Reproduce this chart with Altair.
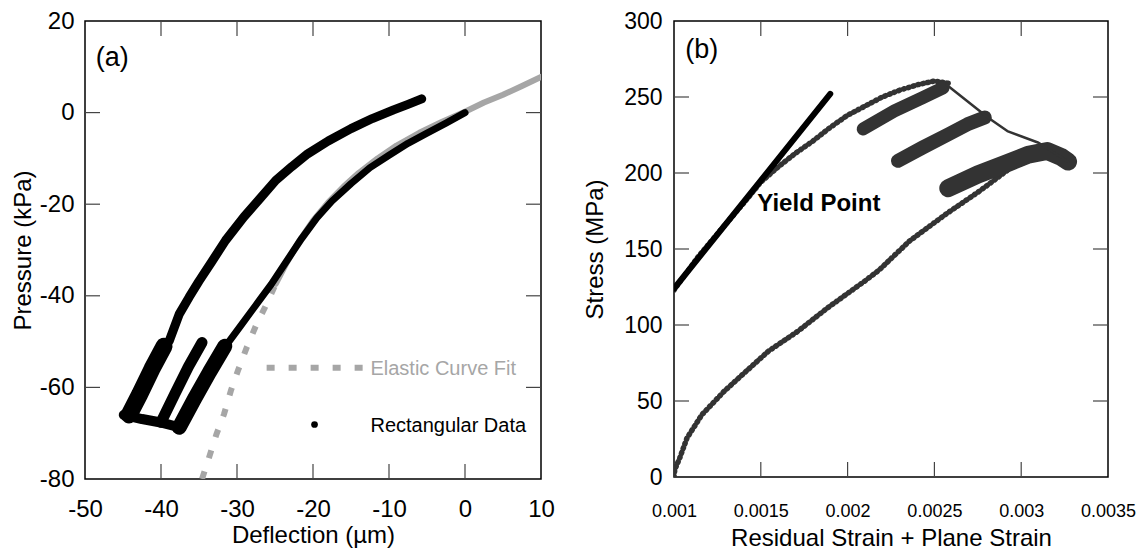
import altair as alt
import pandas as pd

FONT = "Liberation Sans"

# ---------------- Panel (a) data: Deflection (um) vs Pressure (kPa) ----------------
upper_x = [-44.6, -43.4, -42.0, -40.5, -38.9, -37.6, -36.3, -35.0, -33.3, -31.5, -29.1,
           -27.0, -24.9, -22.8, -20.7, -18.0, -15.0, -12.2, -9.4, -7.5, -5.7]
upper_y = [-66.0, -62.2, -57.6, -53.2, -49.8, -44.0, -40.3, -36.8, -32.5, -27.9, -22.8,
           -18.8, -14.8, -11.8, -9.0, -6.2, -3.5, -1.3, 0.6, 1.8, 3.0]

finger1_x = [-44.2, -42.8, -41.2, -39.6]
finger1_y = [-66.0, -61.5, -56.0, -51.0]
finger2_x = [-40.0, -38.2, -36.4, -34.6]
finger2_y = [-67.6, -61.5, -55.5, -50.2]
finger3_x = [-37.6, -35.6, -33.6, -31.6]
finger3_y = [-68.7, -62.5, -56.6, -51.0]
bottom_x = [-44.9, -42.5, -40.2, -37.6]
bottom_y = [-66.0, -66.9, -67.6, -68.7]

loading_x = [-37.6, -35.6, -33.6, -31.5, -29.5, -27.5, -25.5, -23.5, -21.5, -19.5, -17.5,
             -15.0, -12.5, -10.0, -7.5, -5.0, -2.5, 0.0]
loading_y = [-68.7, -62.5, -56.6, -51.0, -46.5, -42.0, -37.5, -32.5, -27.5, -23.0, -19.3,
             -15.5, -12.0, -9.3, -6.7, -4.5, -2.3, 0.0]

fit_dash_x = [-34.6, -33.6, -32.7, -31.7, -30.8, -29.8, -28.7, -27.5, -26.1, -24.9]
fit_dash_y = [-80.0, -74.9, -70.2, -65.8, -60.7, -56.0, -51.2, -46.5, -41.8, -37.4]
fit_solid_x = [-24.9, -23.4, -21.8, -20.0, -18.0, -16.0, -14.0, -11.5, -9.0, -6.0, -3.0,
               0.0, 2.5, 5.0, 7.5, 10.0]
fit_solid_y = [-37.4, -32.6, -28.0, -23.6, -19.6, -16.2, -13.2, -10.0, -7.2, -4.4, -2.0,
               0.2, 2.2, 3.9, 5.8, 7.8]

a_xticks = [-50, -40, -30, -20, -10, 0, 10]
a_yticks = [-80, -60, -40, -20, 0, 20]

# ---------------- Panel (b) data: strain vs stress (MPa) ----------------
elastic_x = [0.001, 0.0019]
elastic_y = [124, 252]

lower_x = [0.001, 0.001005, 0.001033, 0.001075, 0.001161, 0.001289, 0.001416, 0.001544,
           0.001715, 0.001885, 0.0021, 0.00218, 0.002354, 0.002567, 0.002759, 0.002993,
           0.003122]
lower_y = [0.0, 5.0, 12.5, 25.7, 41.0, 56.4, 69.6, 82.8, 96.0, 111.3, 129.0, 136.0, 155.0,
           173.0, 188.0, 208.0, 218.0]

yield_x = [0.001, 0.00114, 0.00128, 0.0014, 0.0015, 0.0016, 0.0017, 0.0018, 0.0019, 0.002,
           0.0021, 0.0022, 0.0023, 0.0024, 0.0025, 0.00258]
yield_y = [123, 145, 164, 180, 194, 204, 213, 221, 230, 238, 244, 250, 254.5, 258, 260.5, 259]

band1_x = [0.00209, 0.00227, 0.00243, 0.00255]
band1_y = [229.0, 240.8, 249.5, 256.0]
band2_x = [0.00229, 0.00243, 0.00258, 0.00269, 0.00279]
band2_y = [208.0, 216.6, 225.4, 232.0, 236.5]
band3_x = [0.00258, 0.00275, 0.0029, 0.00304, 0.00315, 0.003231, 0.00327]
band3_y = [190.0, 199.0, 205.6, 212.0, 214.5, 210.5, 207.5]
unload_x = [0.00257, 0.00281, 0.00292, 0.0031, 0.00322, 0.00327]
unload_y = [258.0, 236.3, 227.6, 219.9, 211.1, 207.5]

b_xticks = [0.001, 0.0015, 0.002, 0.0025, 0.003, 0.0035]
b_yticks = [0, 50, 100, 150, 200, 250, 300]


def frame(xs, ys):
    return pd.DataFrame({"i": list(range(len(xs))), "x": xs, "y": ys})


TICK = 15

# ---------------- Panel (a) ----------------
WA, HA = 456, 458
xa_scale = alt.Scale(domain=[-50, 10], nice=False, zero=False)
ya_scale = alt.Scale(domain=[-80, 20], nice=False, zero=False)

axis_a_x = alt.Axis(values=a_xticks, title="Deflection (\u00b5m)", ticks=False, domain=False,
                    grid=False, labelExpr="'' + datum.value", labelFontSize=24,
                    labelPadding=18, titleFontSize=24, titlePadding=2, labelFlush=False,
                    labelOverlap=False, titleFontWeight="normal", labelColor="#000",
                    titleColor="#000", labelFont=FONT, titleFont=FONT)
axis_a_y = alt.Axis(values=a_yticks, title="Pressure (kPa)", ticks=False, domain=False,
                    grid=False, labelExpr="'' + datum.value", labelFontSize=24,
                    labelPadding=11, titleFontSize=24, titlePadding=4, labelFlush=False,
                    labelOverlap=False, titleFontWeight="normal", labelColor="#000",
                    titleColor="#000", labelFont=FONT, titleFont=FONT)


def XA(f="x"):
    return alt.X(f, type="quantitative", scale=xa_scale, axis=axis_a_x)


def YA(f="y"):
    return alt.Y(f, type="quantitative", scale=ya_scale, axis=axis_a_y)


def a_line(xs, ys, color, width, dash=None, cap="round"):
    kw = dict(color=color, strokeWidth=width, strokeCap=cap, strokeJoin="round", clip=True)
    if dash:
        kw["strokeDash"] = dash
    return alt.Chart(frame(xs, ys)).mark_line(**kw).encode(x=XA(), y=YA(), order="i:Q")


GRAY_A = "#a6a6a6"
a_layers = [
    a_line(fit_dash_x, fit_dash_y, GRAY_A, 6, dash=[8, 14], cap="butt"),
    a_line(fit_solid_x, fit_solid_y, GRAY_A, 6),
    a_line(upper_x, upper_y, "#000", 9),
    a_line(loading_x, loading_y, "#000", 7),
    a_line(finger1_x, finger1_y, "#000", 17),
    a_line(finger2_x, finger2_y, "#000", 11),
    a_line(finger3_x, finger3_y, "#000", 15),
    a_line(bottom_x, bottom_y, "#000", 10),
]

# inward tick marks (panel a)
a_xt = pd.DataFrame({"x": a_xticks[1:-1]})
a_yt = pd.DataFrame({"y": a_yticks[1:-1]})
rule_kw = dict(color="#444", strokeWidth=1.2)
a_layers += [
    alt.Chart(a_xt).mark_rule(**rule_kw).encode(x=XA(), y=alt.value(HA), y2=alt.value(HA - TICK)),
    alt.Chart(a_xt).mark_rule(**rule_kw).encode(x=XA(), y=alt.value(0), y2=alt.value(TICK)),
    alt.Chart(a_yt).mark_rule(**rule_kw).encode(y=YA(), x=alt.value(0), x2=alt.value(TICK)),
    alt.Chart(a_yt).mark_rule(**rule_kw).encode(y=YA(), x=alt.value(WA), x2=alt.value(WA - TICK)),
]

# legend of panel (a)
leg_line_df = pd.DataFrame({"x": [-26.1], "x2": [-13.4], "y": [-55.7]})
leg_dot_df = pd.DataFrame({"x": [-19.8], "y": [-68.1]})
leg_fit_df = pd.DataFrame({"x": [-12.44], "y": [-57.3], "t": ["Elastic Curve Fit"]})
leg_rect_df = pd.DataFrame({"x": [-12.44], "y": [-69.7], "t": ["Rectangular Data"]})
label_a_df = pd.DataFrame({"x": [-48.6], "y": [12.0], "t": ["(a)"]})

a_layers += [
    alt.Chart(leg_line_df).mark_rule(color=GRAY_A, strokeWidth=6, strokeDash=[8, 14],
                                     strokeCap="butt").encode(x=XA(), x2="x2", y=YA()),
    alt.Chart(leg_dot_df).mark_circle(color="#000", size=45, opacity=1).encode(x=XA(), y=YA()),
    alt.Chart(leg_fit_df).mark_text(align="left", baseline="alphabetic", font=FONT, fontSize=20,
                                    color=GRAY_A).encode(x=XA(), y=YA(), text="t:N"),
    alt.Chart(leg_rect_df).mark_text(align="left", baseline="alphabetic", font=FONT, fontSize=20,
                                     color="#000").encode(x=XA(), y=YA(), text="t:N"),
    alt.Chart(label_a_df).mark_text(align="left", baseline="middle", font=FONT, fontSize=27,
                                    color="#000").encode(x=XA(), y=YA(), text="t:N"),
]

panel_a = alt.layer(*a_layers).properties(width=WA, height=HA)

# ---------------- Panel (b) ----------------
WB, HB = 434, 456
xb_scale = alt.Scale(domain=[0.001, 0.0035], nice=False, zero=False)
yb_scale = alt.Scale(domain=[0, 300], nice=False, zero=False)

axis_b_x = alt.Axis(values=b_xticks, title="Residual Strain + Plane Strain", ticks=False,
                    domain=False, grid=False, labelExpr="format(datum.value, '.4~f')",
                    labelFontSize=18, labelPadding=25, titleFontSize=24, titlePadding=6,
                    labelFlush=False, labelOverlap=False, titleFontWeight="normal",
                    labelColor="#000", titleColor="#000", labelFont=FONT, titleFont=FONT)
axis_b_y = alt.Axis(values=b_yticks, title="Stress (MPa)", ticks=False, domain=False,
                    grid=False, labelExpr="'' + datum.value", labelFontSize=23,
                    labelPadding=12, titleFontSize=24, titlePadding=16, labelFlush=False,
                    labelOverlap=False, titleFontWeight="normal", labelColor="#000",
                    titleColor="#000", labelFont=FONT, titleFont=FONT)


def XB(f="x"):
    return alt.X(f, type="quantitative", scale=xb_scale, axis=axis_b_x)


def YB(f="y"):
    return alt.Y(f, type="quantitative", scale=yb_scale, axis=axis_b_y)


def b_line(xs, ys, color, width, dash=None):
    kw = dict(color=color, strokeWidth=width, strokeCap="round", strokeJoin="round", clip=True)
    if dash:
        kw["strokeDash"] = dash
    return alt.Chart(frame(xs, ys)).mark_line(**kw).encode(x=XB(), y=YB(), order="i:Q")


GRAY_B = "#333333"
b_layers = [
    b_line(lower_x, lower_y, GRAY_B, 5.5, dash=[1, 4]),
    b_line(yield_x, yield_y, GRAY_B, 5.5, dash=[1, 4]),
    b_line(band1_x, band1_y, GRAY_B, 13),
    b_line(band2_x, band2_y, GRAY_B, 14),
    b_line(band3_x, band3_y, GRAY_B, 18),
    b_line(unload_x, unload_y, GRAY_B, 2.5),
    b_line(elastic_x, elastic_y, "#000", 6),
]

b_xt = pd.DataFrame({"x": b_xticks[1:-1]})
b_yt = pd.DataFrame({"y": b_yticks[1:-1]})
b_layers += [
    alt.Chart(b_xt).mark_rule(**rule_kw).encode(x=XB(), y=alt.value(HB), y2=alt.value(HB - TICK)),
    alt.Chart(b_xt).mark_rule(**rule_kw).encode(x=XB(), y=alt.value(0), y2=alt.value(TICK)),
    alt.Chart(b_yt).mark_rule(**rule_kw).encode(y=YB(), x=alt.value(0), x2=alt.value(TICK)),
    alt.Chart(b_yt).mark_rule(**rule_kw).encode(y=YB(), x=alt.value(WB), x2=alt.value(WB - TICK)),
]

label_b_df = pd.DataFrame({"x": [0.001065], "y": [281.0], "t": ["(b)"]})
yield_lab_df = pd.DataFrame({"x": [0.00148], "y": [174.9], "t": ["Yield Point"]})
b_layers += [
    alt.Chart(label_b_df).mark_text(align="left", baseline="middle", font=FONT, fontSize=27,
                                    color="#000").encode(x=XB(), y=YB(), text="t:N"),
    alt.Chart(yield_lab_df).mark_text(align="left", baseline="alphabetic", font=FONT,
                                      fontSize=24, fontWeight="bold",
                                      color="#000").encode(x=XB(), y=YB(), text="t:N"),
]

panel_b = alt.layer(*b_layers).properties(width=WB, height=HB)

chart = alt.hconcat(panel_a, panel_b, spacing=133, bounds="flush").properties(
    padding={"left": 10, "top": 8, "right": 0, "bottom": 0}
).configure(font=FONT).configure_view(
    stroke="#000", strokeWidth=1.5
)

chart.save("out.html", embed_options={"renderer": "svg", "actions": False})
